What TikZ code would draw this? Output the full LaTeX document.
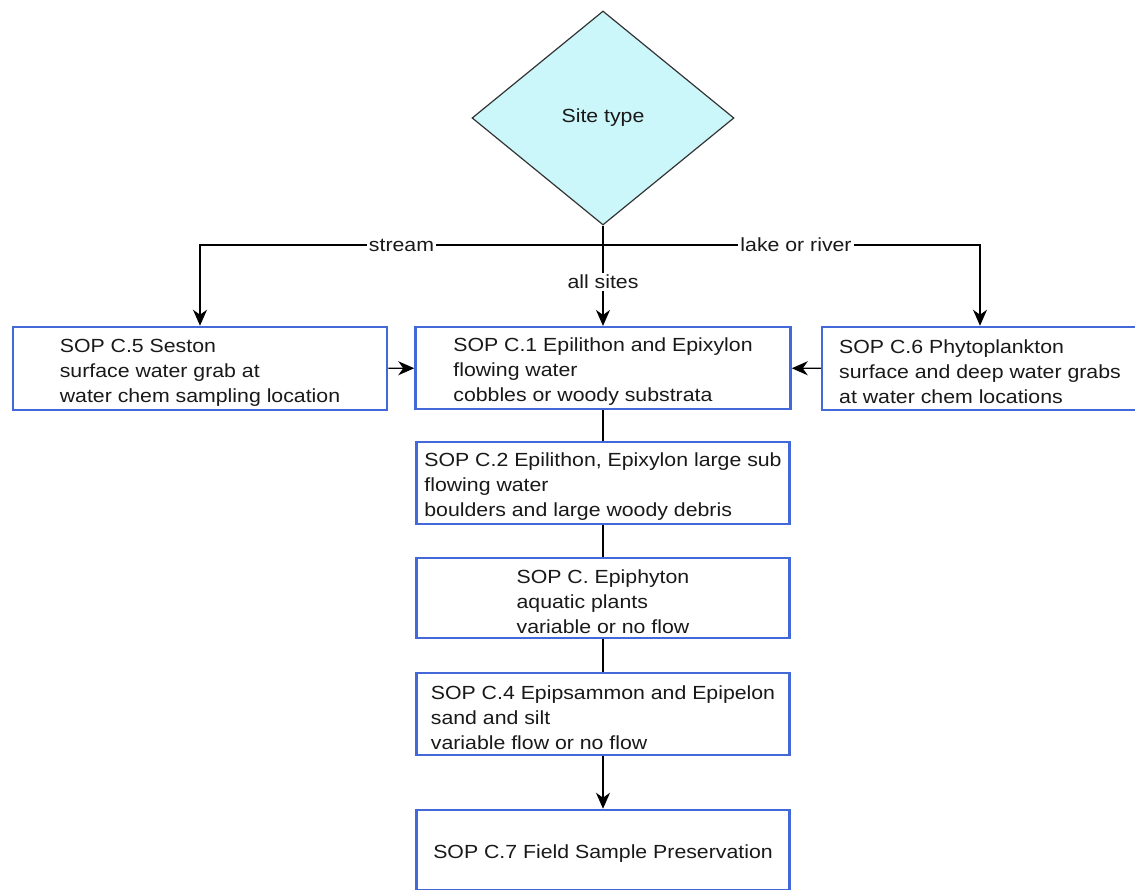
\documentclass[tikz,border=0pt]{standalone}
\usepackage{fontspec}
\setmainfont{Liberation Sans}[FakeStretch=1.12]
\usetikzlibrary{shapes.geometric,arrows.meta}
\definecolor{boxblue}{RGB}{66,104,218}
\definecolor{sitefill}{RGB}{204,247,250}
\newcommand\boxstrut{\rule{0pt}{21pt}}
\begin{document}
\begin{tikzpicture}[x=1pt,y=-1pt,line width=1.3pt,
     >={Stealth[length=16pt,width=14pt,inset=5pt]},
     every node/.style =
     {font=\fontsize{19}{25}\selectfont, text=black!90},
     box/.style = {draw=boxblue,line width=2.5pt,fill=white,align=left,
        minimum height=80pt},
     lbl/.style = {fill=white,inner sep=2pt}]
     \useasboundingbox (0,0) rectangle (1135,890);
     \node[diamond,draw=black!80,fill=sitefill,line width=1.2pt,inner sep=0pt,
        minimum width=262pt,minimum height=214pt](site) at (603,118) {Site type};
     \node[box,minimum width=374pt,minimum height=83pt](seston) at (200,368.5)
        {\boxstrut SOP C.5 Seston\\surface water grab at\\water chem sampling location};
     \node[box,minimum width=375pt](c1) at (603,368)
        {\boxstrut SOP C.1 Epilithon and Epixylon\\flowing water\\cobbles or woody substrata};
     \node[box,minimum width=316pt,minimum height=83pt](c6) at (980,368.5)
        {\boxstrut SOP C.6 Phytoplankton\\surface and deep water grabs\\at water chem locations};
     \node[box,minimum width=373pt](c2) at (603,483)
        {\boxstrut SOP C.2 Epilithon, Epixylon large sub\\flowing water\\boulders and large woody debris};
     \node[box,minimum width=373pt](c3) at (603,598)
        {\boxstrut SOP C. Epiphyton\\aquatic plants\\variable or no flow};
     \node[box,minimum width=373pt,minimum height=82pt](c4) at (603,714)
        {\boxstrut SOP C.4 Epipsammon and Epipelon\\sand and silt\\variable flow or no flow};
     \node[box,minimum width=373pt](c7) at (603,850)
        {\rule{0pt}{20pt}SOP C.7 Field Sample Preservation};
     \coordinate (fork) at (603,245);
     % branches from the site type
     \draw[->] (site) -- node[lbl,pos=0.56] {all sites} (c1);
     \draw[->] (fork) -| node[lbl,pos=0.25] {stream} (seston);
     \draw[->] (fork) -| node[lbl,pos=0.256] {lake or river} (c6);
     \draw[->] (seston) -- (c1);
     \draw[->] (c6) -- (c1);
     \draw (c1) -- (c2) (c2) -- (c3) (c3) -- (c4);
     \draw[->] (c4) -- (c7);
   \end{tikzpicture}
\end{document}
